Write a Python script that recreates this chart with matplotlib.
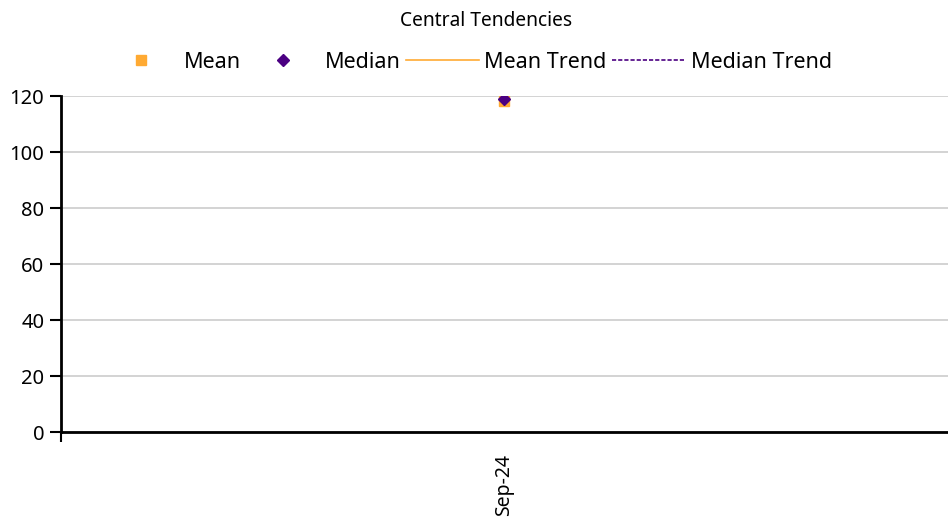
import matplotlib.pyplot as plt

# data
months = ["Sep-24"]
mean_vals = [118.3]
median_vals = [119.0]

plt.rcParams['font.family'] = ['Noto Sans', 'DejaVu Sans']

fig = plt.figure(figsize=(9.48, 5.2), dpi=100)
ax = fig.add_axes([0.0643, 0.169, 0.9357, 0.646])

x = list(range(len(months)))
ax.plot(x, mean_vals, linestyle='none', marker='s', markersize=7, color='#FFAA33', label='Mean', zorder=3)
ax.plot(x, median_vals, linestyle='none', marker='D', markersize=6, color='#4B0082', label='Median', zorder=4)
# trend lines (single point -> only visible in the legend)
ax.plot(x, mean_vals, '-', color='#FFAA33', linewidth=1.2, label='Mean Trend')
ax.plot(x, median_vals, '--', color='#4B0082', linewidth=1.2, dashes=(2.5, 1.2), label='Median Trend')

ax.set_xlim(-0.5, len(months) - 0.5)
ax.set_ylim(0, 120)
ax.set_yticks(range(0, 121, 20))
ax.set_xticks(x)
ax.set_xticklabels(months, rotation=90, fontsize=14)
ax.set_xticks([-0.5], minor=True)
ax.tick_params(axis='x', which='major', length=0, pad=16)
ax.tick_params(axis='x', which='minor', length=7, width=1.5, direction='out')
ax.tick_params(axis='y', length=8, width=1.5, labelsize=14.5, pad=4)

ax.grid(axis='y', color='#cccccc', linewidth=1.2)
ax.set_axisbelow(True)
for s in ['top', 'right']:
    ax.spines[s].set_visible(False)
ax.spines['left'].set_linewidth(2)
ax.spines['bottom'].set_linewidth(2)

fig.text(0.513, 0.96, "Central Tendencies", ha='center', va='center', fontsize=13.8)
fig.legend(loc='center', bbox_to_anchor=(0.494, 0.88), ncol=4, frameon=False,
           fontsize=15.5, handlelength=3.4, handletextpad=0.25, columnspacing=0.25)

fig.savefig("out.png", dpi=100)
